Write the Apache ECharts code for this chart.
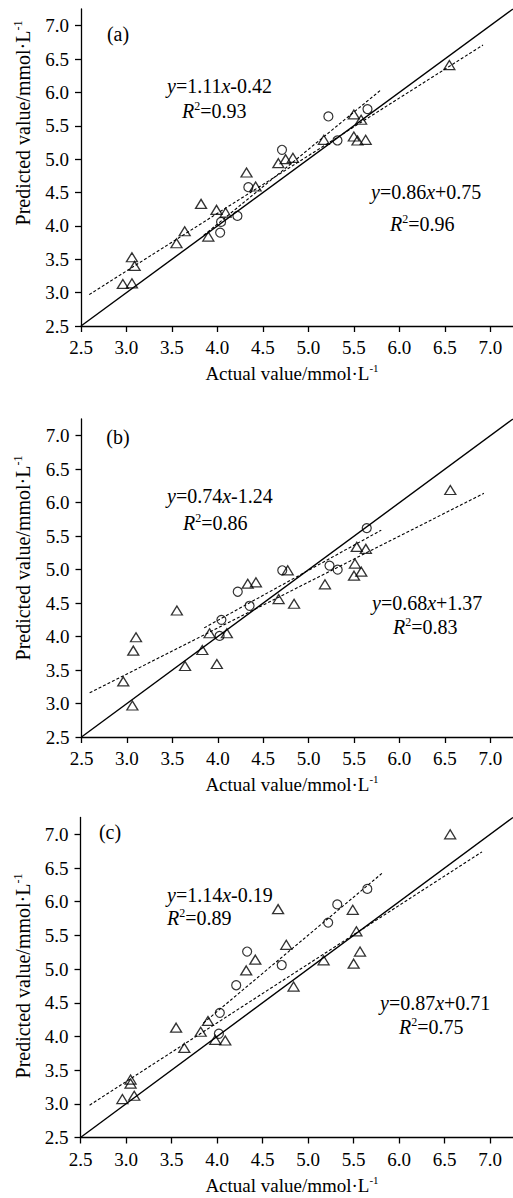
<!DOCTYPE html>
<html>
<head>
<meta charset="utf-8">
<script src="https://cdn.jsdelivr.net/npm/echarts@6/dist/echarts.min.js"></script>
<style>
html, body { margin: 0; padding: 0; background: #fff; }
#chart { width: 513px; height: 1198px; }
</style>
</head>
<body>
<div id="chart"></div>
<script>
// tick values shared by both axes of every panel
const tickValues = [2.5, 3.0, 3.5, 4.0, 4.5, 5.0, 5.5, 6.0, 6.5, 7.0]

// panel (a) : [actual, predicted]
const triA = [[2.96,3.13],[3.06,3.14],[3.06,3.53],[3.09,3.40],[3.55,3.74],[3.64,3.92],[3.82,4.33],[3.90,3.84],[3.99,4.24],[4.09,4.20],[4.32,4.80],[4.42,4.59],[4.67,4.94],[4.75,5.00],[4.83,5.02],[5.17,5.29],[5.50,5.67],[5.58,5.59],[5.50,5.34],[5.54,5.28],[5.63,5.29],[6.55,6.41]]
const cirA = [[4.03,3.90],[4.04,4.06],[4.22,4.15],[4.34,4.58],[4.71,5.14],[5.22,5.64],[5.32,5.28],[5.65,5.75]]
const fitLongA = [[2.59,2.97],[6.92,6.71]]
const fitShortA = [[3.85,3.86],[5.80,6.04]]

// panel (b)
const triB = [[3.06,2.97],[2.96,3.33],[3.07,3.79],[3.10,3.99],[3.64,3.56],[3.55,4.39],[3.83,3.80],[3.91,4.05],[3.99,3.59],[4.10,4.05],[4.33,4.79],[4.42,4.81],[4.67,4.56],[4.84,4.49],[4.77,4.99],[5.53,5.34],[5.63,5.31],[5.51,5.09],[5.58,4.97],[5.50,4.91],[5.18,4.78],[6.56,6.19]]
const cirB = [[4.02,4.01],[4.04,4.25],[4.22,4.67],[4.35,4.46],[4.71,4.99],[5.64,5.62],[5.23,5.06],[5.32,5.00]]
const fitLongB = [[2.59,3.16],[6.93,6.14]]
const fitShortB = [[3.85,4.13],[5.80,5.59]]

// panel (c)
const triC = [[2.96,3.07],[3.09,3.12],[3.05,3.30],[3.05,3.36],[3.64,3.83],[3.55,4.13],[3.82,4.07],[3.90,4.23],[3.98,3.95],[4.09,3.94],[4.32,4.98],[4.84,4.74],[6.56,7.00],[5.49,5.88],[5.53,5.56],[5.57,5.26],[5.50,5.08],[5.17,5.13],[4.67,5.89],[4.76,5.36],[4.42,5.14]]
const cirC = [[4.02,4.04],[4.03,4.35],[4.21,4.76],[4.71,5.06],[5.65,6.19],[5.32,5.96],[5.22,5.69],[4.33,5.26]]
const fitLongC = [[2.60,2.98],[6.91,6.74]]
const fitShortC = [[3.85,4.20],[5.81,6.42]]

// 1:1 line
const diag = [[2.5,2.5],[7.25,7.25]]

const panelLabels = ['(a)', '(b)', '(c)']
const eqUpper = [['1.11', '-0.42', '0.93'], ['0.74', '-1.24', '0.86'], ['1.14', '-0.19', '0.89']]
const eqLower = [['0.86', '+0.75', '0.96'], ['0.68', '+1.37', '0.83'], ['0.87', '+0.71', '0.75']]

const font = 'Liberation Serif'
const rich = {
  n: { fontFamily: font, fontSize: 20, color: '#000', lineHeight: 22 },
  i: { fontFamily: font, fontSize: 20, color: '#000', fontStyle: 'italic', lineHeight: 22 },
  s: { fontFamily: font, fontSize: 12, color: '#000', lineHeight: 12, verticalAlign: 'top' }
}
const nameRich = {
  n: { fontFamily: font, fontSize: 19, color: '#000', lineHeight: 22 },
  s: { fontFamily: font, fontSize: 11, color: '#000', lineHeight: 12, verticalAlign: 'top' }
}
const yNameRich = {
  n: { fontFamily: font, fontSize: 20, color: '#000', lineHeight: 22 },
  s: { fontFamily: font, fontSize: 12, color: '#000', lineHeight: 12, verticalAlign: 'top' }
}

const panels = [
  { tri: triA, cir: cirA, long: fitLongA, short: fitShortA,
    grid: { left: 81, top: 9, width: 434, height: 317 },
    tag: [118, 34], up: [167, 86, 182, 111], low: [371, 192, 390, 224], yName: [23, 123], xName: [292, 373] },
  { tri: triB, cir: cirB, long: fitLongB, short: fitShortB,
    grid: { left: 81.5, top: 419, width: 434, height: 318 },
    tag: [118, 437], up: [167, 496, 183, 523], low: [372, 603, 393, 627], yName: [23, 558], xName: [292, 784] },
  { tri: triC, cir: cirC, long: fitLongC, short: fitShortC,
    grid: { left: 80.5, top: 817.5, width: 434, height: 320 },
    tag: [110, 832], up: [167, 895, 167, 918], low: [380, 1003, 399, 1027], yName: [23, 976], xName: [292, 1185] }
]

function axis(idx) {
  return {
    type: 'value', gridIndex: idx, min: 2.5, max: 7.25, interval: 0.5,
    splitLine: { show: false },
    axisLine: { lineStyle: { color: '#000', width: 1.3 } },
    axisTick: { inside: false, length: 6, customValues: tickValues, lineStyle: { color: '#000', width: 1.3 } },
    axisLabel: { customValues: tickValues, color: '#000', fontFamily: font, fontSize: 19, margin: 12,
      formatter: v => v.toFixed(1) }
  }
}

function textEl(x, y, text, r, align, rotation) {
  return {
    type: 'text', x: x, y: y, rotation: rotation || 0,
    style: { text: text, rich: r, align: align, textAlign: align, verticalAlign: 'middle', textVerticalAlign: 'middle' }
  }
}

let grids = [], xAxes = [], yAxes = [], series = [], graphics = []
panels.forEach((p, k) => {
  grids.push(p.grid)
  xAxes.push(axis(k))
  yAxes.push(axis(k))
  let dashed = { type: 'line', xAxisIndex: k, yAxisIndex: k, symbol: 'none', silent: true,
    lineStyle: { color: '#000', width: 1.1, type: [3, 2] } }
  series.push({ ...dashed, data: p.long })
  series.push({ ...dashed, data: p.short })
  series.push({ type: 'line', xAxisIndex: k, yAxisIndex: k, symbol: 'none', silent: true,
    data: diag, lineStyle: { color: '#000', width: 1.4 } })
  series.push({ type: 'scatter', xAxisIndex: k, yAxisIndex: k, data: p.tri, symbol: 'triangle',
    symbolSize: [11, 9], itemStyle: { color: 'rgba(0,0,0,0)', borderColor: '#000', borderWidth: 1.3 } })
  series.push({ type: 'scatter', xAxisIndex: k, yAxisIndex: k, data: p.cir, symbol: 'circle',
    symbolSize: 9, itemStyle: { color: 'rgba(0,0,0,0)', borderColor: '#000', borderWidth: 1.2 } })

  let u = eqUpper[k], l = eqLower[k]
  graphics.push(textEl(p.tag[0], p.tag[1], '{n|' + panelLabels[k] + '}', rich, 'center'))
  graphics.push(textEl(p.up[0], p.up[1], `{i|y}{n|=${u[0]}}{i|x}{n|${u[1]}}`, rich, 'left'))
  graphics.push(textEl(p.up[2], p.up[3], `{i|R}{s|2}{n|=${u[2]}}`, rich, 'left'))
  graphics.push(textEl(p.low[0], p.low[1], `{i|y}{n|=${l[0]}}{i|x}{n|${l[1]}}`, rich, 'left'))
  graphics.push(textEl(p.low[2], p.low[3], `{i|R}{s|2}{n|=${l[2]}}`, rich, 'left'))
  graphics.push(textEl(p.yName[0], p.yName[1], '{n|Predicted value/mmol·L}{s|-1}', yNameRich, 'center', Math.PI / 2))
  graphics.push(textEl(p.xName[0], p.xName[1], '{n|Actual value/mmol·L}{s|-1}', nameRich, 'center'))
})

const chart = echarts.init(document.getElementById('chart'), null, { renderer: 'svg' })
chart.setOption({
  animation: false,
  backgroundColor: '#fff',
  grid: grids,
  xAxis: xAxes,
  yAxis: yAxes,
  series: series,
  graphic: graphics
})
</script>
</body>
</html>
